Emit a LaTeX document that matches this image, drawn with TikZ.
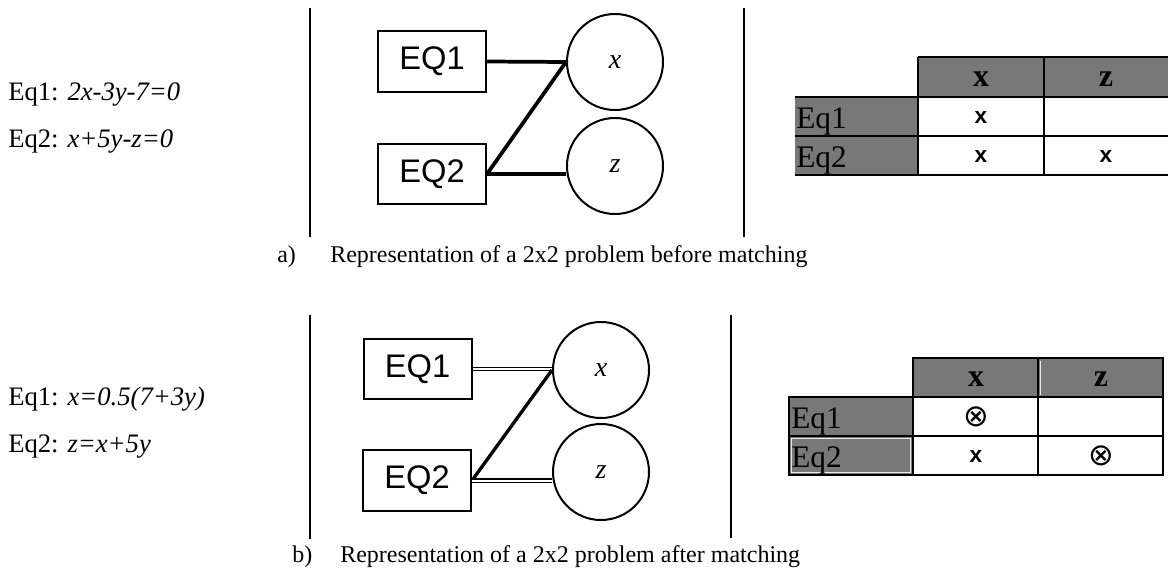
\documentclass[tikz,border=0pt]{standalone}
\usepackage{fontspec}
\setmainfont{Liberation Serif}
\setsansfont{Liberation Sans}
\newfontfamily\symfont{DejaVu Sans}
\definecolor{tgray}{RGB}{120,120,120}
\begin{document}
\begin{tikzpicture}[x=0.75pt,y=-0.75pt,
  eqbox/.style={draw,line width=1.5pt,inner sep=0pt,minimum width=81pt,minimum height=45.5pt,font=\sffamily\fontsize{24.5}{25}\selectfont},
  varc/.style={draw,circle,line width=1.5pt,inner sep=0pt,minimum size=72pt,font=\itshape\fontsize{21}{22}\selectfont},
  sepline/.style={line width=2.1pt},
  conn/.style={line width=2.8pt},
  dconn/.style={double,line width=1pt,double distance=1.5pt},
  eqtxt/.style={anchor=base west,inner sep=0pt,font=\fontsize{20}{22}\selectfont},
  captxt/.style={anchor=base west,inner sep=0pt,font=\fontsize{18}{20}\selectfont},
  rowlab/.style={anchor=base west,inner sep=0pt,font=\fontsize{23.5}{24}\selectfont},
  colhead/.style={inner sep=0pt,font=\bfseries\fontsize{24}{24}\selectfont},
  cellx/.style={inner sep=0pt,font=\sffamily\bfseries\fontsize{17}{18}\selectfont},
  cellm/.style={inner sep=0pt,font=\symfont\fontsize{23}{24}\selectfont},
  grid/.style={line width=1.3pt},
  hilite/.style={draw=white!85!tgray,line width=0.6pt}
]
\useasboundingbox (0,0) rectangle (1168,571);

% ---------------- panel a ----------------
\node[eqtxt] (ta1) at (8,100) {Eq1: \textit{2x-3y-7=0}};
\node[eqtxt] (ta2) at (8,147) {Eq2: \textit{x+5y-z=0}};

\coordinate (sa1t) at (310,8);
\coordinate (sa1b) at (310,237);
\draw[sepline] (sa1t) -- (sa1b);
\coordinate (sa2t) at (744,8);
\coordinate (sa2b) at (744,237);
\draw[sepline] (sa2t) -- (sa2b);

\node[eqbox] (aeq1) at (432,61.5) {EQ1};
\node[eqbox] (aeq2) at (432,174) {EQ2};
\node[varc] (ax) at (615,62) {x};
\node[varc] (az) at (615,166) {z};
\draw[conn] (aeq1.east) -- (ax.west);
\draw[conn] (aeq2.east) -- (ax.west);
\draw[conn] (aeq2.east) -- (aeq2.east -| az.west);

% table a
\fill[tgray] (918,57) rectangle (1168,97);
\fill[tgray] (795,97) rectangle (918,175);
\draw[grid] (918,57) -- (1168,57);
\draw[grid] (795,97) -- (1168,97);
\draw[grid] (795,136) -- (1168,136);
\draw[grid] (795,175) -- (1168,175);
\draw[grid] (918,57) -- (918,175);
\draw[grid] (1044,57) -- (1044,175);
\node[colhead] (ahx) at (981,79) {x};
\node[colhead] (ahz) at (1106,79) {z};
\node[rowlab] (ar1) at (796,128) {Eq1};
\node[rowlab] (ar2) at (796,167) {Eq2};
\node[cellx] (a11) at (981,118) {x};
\node[cellx] (a21) at (981,157) {x};
\node[cellx] (a22) at (1106,157) {x};

\node[captxt] (calab) at (277,262) {a)};
\node[captxt] (catxt) at (330,262) {Representation of a 2x2 problem before matching};

% ---------------- panel b ----------------
\node[eqtxt] (tb1) at (8,405) {Eq1: \textit{x=0.5(7+3y)}};
\node[eqtxt] (tb2) at (8,452) {Eq2: \textit{z=x+5y}};

\coordinate (sb1t) at (310,315);
\coordinate (sb1b) at (310,539);
\draw[sepline] (sb1t) -- (sb1b);
\coordinate (sb2t) at (731,315);
\coordinate (sb2b) at (731,538);
\draw[sepline] (sb2t) -- (sb2b);

\node[eqbox] (beq1) at (417.5,369) {EQ1};
\node[eqbox] (beq2) at (417,480.5) {EQ2};
\node[varc] (bx) at (601,370) {x};
\node[varc] (bz) at (601,472) {z};
\draw[dconn] (beq1.east) -- (beq1.east -| bx.west);
\draw[conn,line width=2.5pt] (beq2.east) -- (bx.west);
\draw[dconn] (beq2.east) -- (beq2.east -| bz.west);

% table b
\fill[tgray] (913,358) rectangle (1163,397);
\fill[tgray] (789,397) rectangle (913,475);
\draw[hilite] (791.5,438.5) rectangle (910.5,472.5);
\draw[hilite] (1040.5,360.5) -- (1040.5,394.5);
\draw[grid] (913,358) rectangle (1163,475);
\draw[grid] (789,397) rectangle (913,475);
\draw[grid] (789,436) -- (1163,436);
\draw[grid] (913,397) -- (1163,397);
\draw[grid] (1038,358) -- (1038,475);
\node[colhead] (bhx) at (976,379) {x};
\node[colhead] (bhz) at (1101,379) {z};
\node[rowlab] (br1) at (791,428) {Eq1};
\node[rowlab] (br2) at (791,467) {Eq2};
\node[cellm] (b11) at (976,417) {⊗};
\node[cellx] (b21) at (976,457) {x};
\node[cellm] (b22) at (1101,456) {⊗};

\node[captxt] (cblab) at (292,562) {b)};
\node[captxt] (cbtxt) at (340,562) {Representation of a 2x2 problem after matching};
\end{tikzpicture}
\end{document}
